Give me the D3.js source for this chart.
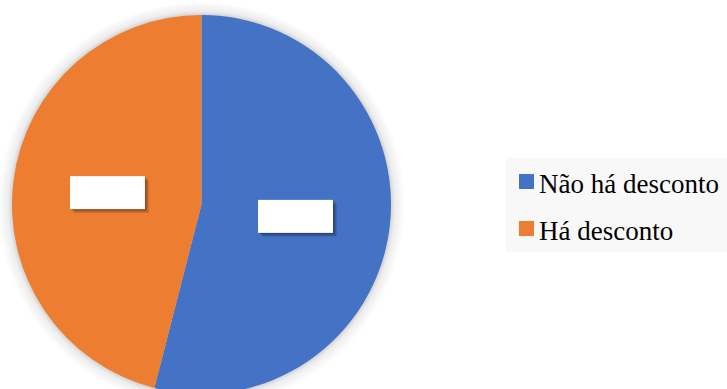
<!DOCTYPE html>
<html>
<head>
<meta charset="utf-8">
<script src="https://cdn.jsdelivr.net/npm/d3@7"></script>
<style>
body{margin:0;background:#fff}
</style>
</head>
<body>
<div id="pie" style="width:727px;height:389px"></div>
<script>
var categories=["Não há desconto","Há desconto"]
var values=[54,46]
var colors=["#4472C4","#ED7D31"]

pie()
function pie(){
var width=727,height=389
var cx=201.5,cy=204.5,r=189.5,glowW=14

var svg=d3.select("#pie").append("svg")
		.attr("width",width)
		.attr("height",height)

// soft shadow round the pie, done with a gradient (no filters)
var grad=svg.append("defs").append("radialGradient").attr("id","glow")
		.attr("gradientUnits","userSpaceOnUse")
		.attr("cx",0).attr("cy",0).attr("r",r+glowW)
grad.append("stop").attr("offset",0).attr("stop-color","#000").attr("stop-opacity",0.22)
grad.append("stop").attr("offset",(r-2)/(r+glowW)).attr("stop-color","#000").attr("stop-opacity",0.22)
grad.append("stop").attr("offset",(r+4)/(r+glowW)).attr("stop-color","#000").attr("stop-opacity",0.07)
grad.append("stop").attr("offset",1).attr("stop-color","#000").attr("stop-opacity",0)

var g=svg.append("g").attr("transform","translate("+cx+","+cy+")")

g.append("circle").attr("cx",-1).attr("cy",2).attr("r",r+glowW).attr("fill","url(#glow)")

var arcs=d3.pie().sort(null).value(function(d){return d})(values)
var arc=d3.arc().innerRadius(0).outerRadius(r)

g.selectAll(".slice")
	.data(arcs)
	.enter()
	.append("path")
	   .attr("class","slice")
	   .attr("d",arc)
	   .attr("fill",function(d,i){return colors[i]})

// data labels (blank white boxes with a shadow)
var lab=d3.arc().innerRadius(r*0.5).outerRadius(r*0.5)
var bw=75,bh=33
for(var k=5;k>=1;k--){
	g.selectAll(".sh"+k)
		.data(arcs)
		.enter()
		.append("rect")
		   .attr("x",function(d){return lab.centroid(d)[0]-bw/2+k*0.8})
		   .attr("y",function(d){return lab.centroid(d)[1]-bh/2+k*0.8})
		   .attr("width",bw)
		   .attr("height",bh)
		   .attr("fill","#000")
		   .attr("opacity",0.09)
}
g.selectAll(".lbl")
	.data(arcs)
	.enter()
	.append("rect")
	   .attr("x",function(d){return lab.centroid(d)[0]-bw/2})
	   .attr("y",function(d){return lab.centroid(d)[1]-bh/2})
	   .attr("width",bw)
	   .attr("height",bh)
	   .attr("fill","#fff")

// legend
var lg=svg.append("g")
lg.append("rect")
	.attr("x",506).attr("y",158)
	.attr("width",221).attr("height",94)
	.attr("fill","#f8f8f8")
for(var i=0;i<categories.length;i++){
	lg.append("rect")
	   .attr("x",519)
	   .attr("y",174+i*47)
	   .attr("width",15)
	   .attr("height",15)
	   .attr("fill",colors[i])
	lg.append("text")
	   .attr("x",539)
	   .attr("y",193+i*47)
	   .text(categories[i])
	   .style("font-family","'Liberation Serif'")
	   .style("font-size","27px")
	   .attr("fill","#000")
}
}
</script>
</body>
</html>
